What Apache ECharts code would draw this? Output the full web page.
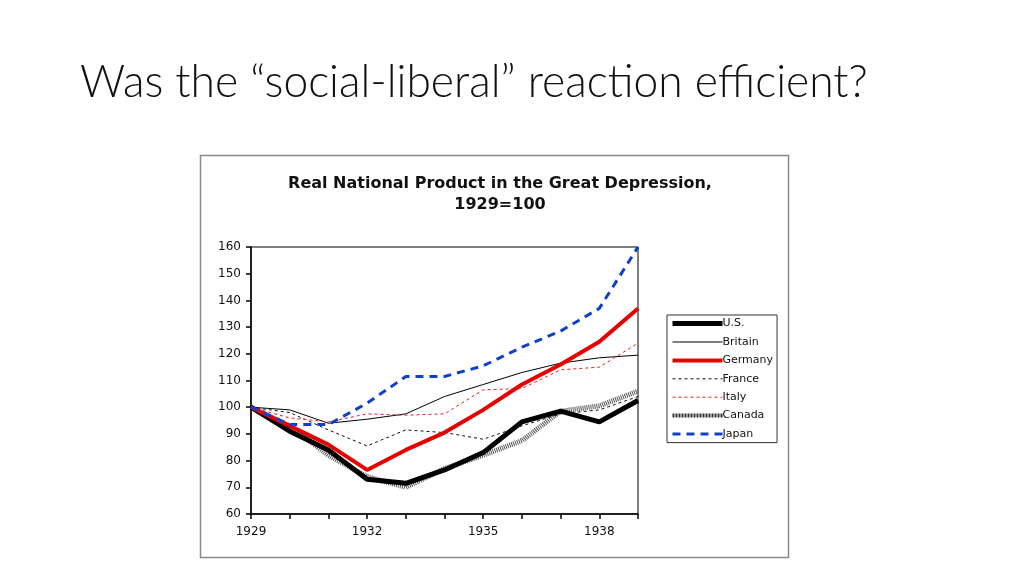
<!DOCTYPE html>
<html>
<head>
<meta charset="utf-8">
<script src="https://cdn.jsdelivr.net/npm/echarts@6/dist/echarts.min.js"></script>
<style>
html,body{margin:0;padding:0;background:#fff;}
#chart{width:1024px;height:576px;}
</style>
</head>
<body>
<div id="chart"></div>
<script>
const years = [1929,1930,1931,1932,1933,1934,1935,1936,1937,1938,1939];
const xTickLabels = [1929,1932,1935,1938];
const us      = [100, 91, 84, 73, 71.5, 76.5, 83, 94.5, 98.5, 94.5, 102.5];
const britain = [100, 99, 94, 95.5, 97.5, 104, 108.5, 113, 116.5, 118.5, 119.5];
const germany = [100, 93, 86, 76.5, 84, 90.5, 99, 108.5, 116, 124.5, 137];
const france  = [100, 98, 91.5, 85.5, 91.5, 90.5, 88, 93, 97.5, 99, 104];
const italy   = [100, 96, 94.5, 97.5, 97, 97.5, 106.5, 107, 114, 115, 124];
const canada  = [100, 93, 82, 74, 70, 77, 82, 87.5, 98.5, 100.5, 106];
const japan   = [100, 93.5, 93.5, 101.5, 111.5, 111.5, 115.5, 122.5, 128.5, 137, 160];
const legendOrder = ['U.S.','Britain','Germany','France','Italy','Canada','Japan'];

const pairs = arr => years.map((y,i)=>[y,arr[i]]);
const font = 'DejaVu Sans';

const styles = {
  'U.S.':   {color:'#000', width:5, type:'solid', z:3},
  'Britain':{color:'#000', width:1, type:'solid', z:4},
  'Germany':{color:'#e80000', width:4, type:'solid', z:5},
  'France': {color:'#111', width:1, type:[3,3], z:4},
  'Italy':  {color:'#e02020', width:1, type:[3,3], z:4},
  'Canada': {color:'#555', width:5, type:[1,1], z:2},
  'Japan':  {color:'#1040c8', width:3, type:[8,6], z:6}
};
const seriesData = {'U.S.':us, 'Britain':britain, 'Germany':germany, 'France':france, 'Italy':italy, 'Canada':canada, 'Japan':japan};
const drawOrder = ['Canada','U.S.','Britain','France','Italy','Germany','Japan'];

const chart = echarts.init(document.getElementById('chart'), null, {renderer:'canvas'});
chart.setOption({
  animation:false,
  backgroundColor:'#fff',
  title:[
    {text:'Was the \u201csocial-liberal\u201d reaction efficient?', left:75, top:56,
     textStyle:{fontFamily:'Lato', fontWeight:300, fontSize:44.4, color:'#111'}},
    {text:'Real National Product in the Great Depression,\n1929=100', left:495, top:168, textAlign:'center',
     textStyle:{fontFamily:font, fontWeight:'bold', fontSize:16, color:'#111', lineHeight:21}}
  ],
  graphic:[
    {type:'rect', shape:{x:200.5,y:155.5,width:588,height:402}, style:{fill:'none', stroke:'#888', lineWidth:1.5}, z:-1}
  ],
  grid:{left:251, top:247, right:386, bottom:62, show:true, borderColor:'#000', borderWidth:1, backgroundColor:'transparent'},
  xAxis:{type:'value', min:1929, max:1939, interval:1,
    axisLine:{lineStyle:{color:'#000', width:1.5}},
    axisTick:{show:true, length:5, lineStyle:{color:'#000', width:1.5}},
    splitLine:{show:false},
    axisLabel:{color:'#111', fontFamily:font, fontSize:12, margin:12,
      formatter:v=> xTickLabels.indexOf(v)>=0 ? String(v) : ''}},
  yAxis:{type:'value', min:60, max:160, interval:10,
    axisLine:{show:true, lineStyle:{color:'#000', width:1.5}},
    axisTick:{show:true, length:5, lineStyle:{color:'#000', width:1.5}},
    splitLine:{show:false},
    axisLabel:{color:'#111', fontFamily:font, fontSize:12, margin:10}},
  legend:{
    data:legendOrder.map(n=>({name:n, lineStyle:{width:n==='Canada'?4:styles[n].width, type:n==='Canada'?[2,1]:styles[n].type, color:n==='Canada'?'#333':styles[n].color}})),
    orient:'vertical', left:667, top:315,
    padding:[3,4,3,3], itemGap:7.2, itemWidth:50, itemHeight:14,
    itemStyle:{opacity:0},
    borderColor:'#333', borderWidth:1, backgroundColor:'#fff',
    textStyle:{fontFamily:font, fontSize:11, color:'#111', padding:[0,0,0,-5]}},
  series: drawOrder.map(n=>({
    name:n, type:'line', data:pairs(seriesData[n]), symbol:'none', z:styles[n].z,
    lineStyle:{color:styles[n].color, width:styles[n].width, type:styles[n].type},
    itemStyle:{color:styles[n].color}
  }))
});
</script>
</body>
</html>
